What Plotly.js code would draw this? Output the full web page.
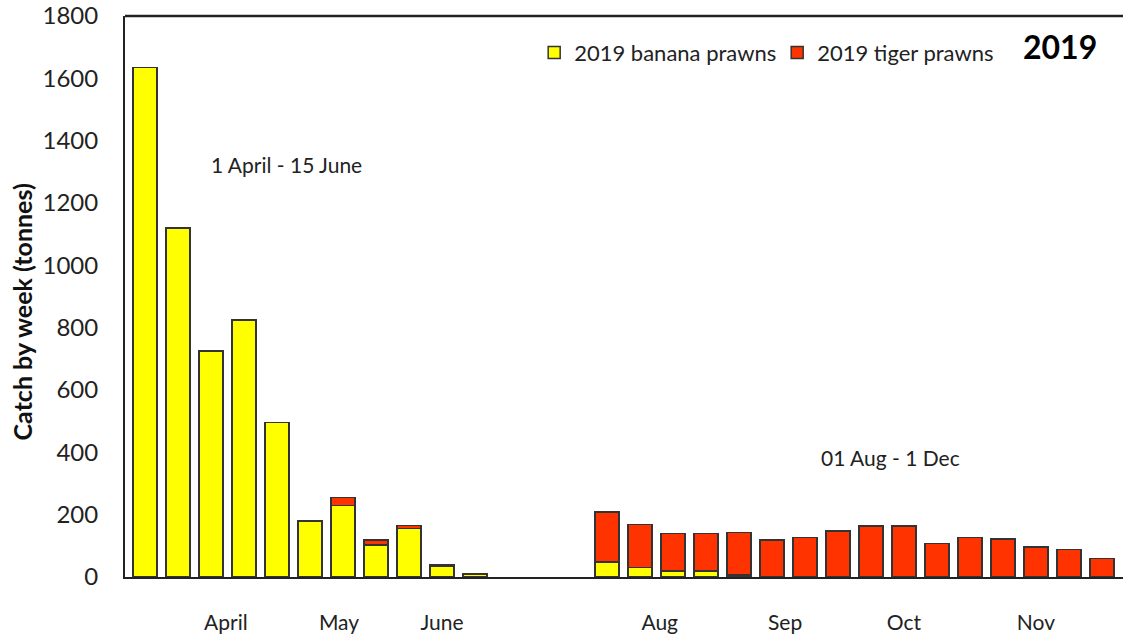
<!DOCTYPE html>
<html>
<head>
<meta charset="utf-8">
<script src="https://cdn.plot.ly/plotly-3.0.1.min.js"></script>
<style>html,body{margin:0;padding:0;background:#fff}#chart{width:1123px;height:641px}</style>
</head>
<body>
<div id="chart"></div>
<script>
// Week slots (1-11: 1 April - 15 June, 15-30: 01 Aug - 1 Dec)
const weeks = [1,2,3,4,5,6,7,8,9,10,11,15,16,17,18,19,20,21,22,23,24,25,26,27,28,29,30];
const banana = [1635,1120,725,825,495,180,230,102,155,36,10,48,30,19,19,6,2,0,0,0,0,0,0,0,0,0,0];
const tiger  = [0,0,0,0,0,0,25,17,10,4,1,161,138,120,120,137,116,126,147,164,164,107,126,122,97,89,60];
const monthPos = [3.45,6.88,10.0,16.6,20.4,24.0,28.0];
const monthLabels = ['April','May','June','Aug','Sep','Oct','Nov'];
const yTicks = [0,200,400,600,800,1000,1200,1400,1600,1800];

const FONT = 'Lato, "Open Sans", sans-serif';
const outline = {color:'#333333', width:1.5};

const traces = [
  {type:'bar', name:'2019 banana prawns', x:weeks, y:banana,
   marker:{color:'#FFFF00', line:outline}},
  {type:'bar', name:'2019 tiger prawns', x:weeks, y:tiger,
   marker:{color:'#FF3300', line:outline}}
];

const layout = {
  width:1123, height:641,
  margin:{l:125, r:0, t:16, b:64},
  paper_bgcolor:'#fff', plot_bgcolor:'#fff',
  barmode:'stack', bargap:0.27,
  font:{family:FONT, color:'#222', size:21},
  showlegend:true,
  legend:{orientation:'h', x:0.41, y:0.972, xanchor:'left', yanchor:'top',
          font:{family:FONT, size:22, color:'#222'}, bgcolor:'rgba(0,0,0,0)',
          traceorder:'normal', entrywidth:198, entrywidthmode:'pixels'},
  xaxis:{range:[0.394,30.64], showgrid:false, zeroline:false,
         showline:true, linecolor:'#222', linewidth:2,
         tickmode:'array', tickvals:monthPos, ticktext:monthLabels,
         ticks:'', ticklabelstandoff:26,
         tickfont:{family:FONT, size:21, color:'#222'}},
  yaxis:{range:[0,1800], showgrid:false, zeroline:false,
         showline:true, linecolor:'#222', linewidth:2,
         tickmode:'array', tickvals:yTicks, ticks:'', ticklabelstandoff:20,
         tickfont:{family:FONT, size:24, color:'#222'}},
  shapes:[{type:'line', xref:'paper', yref:'paper', x0:0, x1:1, y0:1, y1:1,
           line:{color:'#222', width:2.5}}],
  annotations:[
    {text:'<b>Catch by week (tonnes)</b>', xref:'paper', yref:'paper', x:-0.103, y:0.472,
     xanchor:'center', yanchor:'middle', textangle:-90, showarrow:false,
     font:{family:FONT, size:25, color:'#111'}},
    {text:'1 April - 15 June', xref:'x', yref:'y', x:5.3, y:1325, showarrow:false,
     font:{family:FONT, size:21, color:'#222'}},
    {text:'01 Aug - 1 Dec', xref:'x', yref:'y', x:23.6, y:385, showarrow:false,
     font:{family:FONT, size:21, color:'#222'}},
    {text:'<b>2019</b>', xref:'paper', yref:'paper', x:0.937, y:0.945,
     xanchor:'center', yanchor:'middle', showarrow:false,
     font:{family:FONT, size:32, color:'#000'}}
  ]
};

Plotly.newPlot('chart', traces, layout, {staticPlot:true, displayModeBar:false});
</script>
</body>
</html>
